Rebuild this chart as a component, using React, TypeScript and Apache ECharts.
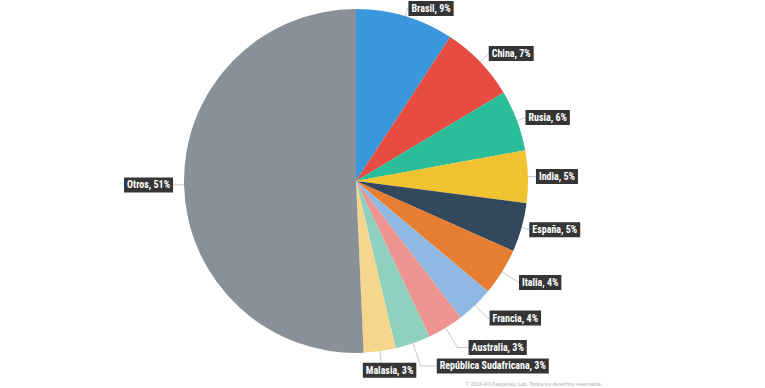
import React, { useEffect, useRef } from "react";
import * as echarts from "echarts";

const categories = [
  "Brasil",
  "China",
  "Rusia",
  "India",
  "España",
  "Italia",
  "Francia",
  "Australia",
  "República Sudafricana",
  "Malasia",
  "Otros",
];
const values = [9.2, 7.2, 5.7, 4.9, 4.6, 4.4, 3.5, 3.4, 3.3, 3.0, 50.6];
const percentLabels = ["9%", "7%", "6%", "5%", "5%", "4%", "4%", "3%", "3%", "3%", "51%"];
const colors = [
  "#3a97dc",
  "#e64c3f",
  "#2bbd99",
  "#f1c330",
  "#34485d",
  "#e67d31",
  "#8fb8e5",
  "#ee9490",
  "#8dd1be",
  "#f6d58d",
  "#899098",
];
// label connector lengths (first segment, second segment)
const lineLen = [8, 12, 9, 8, 8, 20, 18, 23, 24, 15, 8];
const lineLen2 = [1, 0, 0, 0, 0, 0, 2, 11, 16, 0, 3];
const footnote = "© 2016 AO Kaspersky Lab. Todos los derechos reservados.";

export default function App() {
  const ref = useRef<HTMLDivElement>(null);
  useEffect(() => {
    if (!ref.current) return;
    const chart = echarts.init(ref.current, null, { renderer: "svg" });
    chart.setOption({
      animation: false,
      backgroundColor: "#ffffff",
      graphic: [
        {
          type: "text",
          right: 162,
          bottom: 2,
          style: {
            text: footnote,
            fill: "#b0b0b0",
            font: "5.2px 'Liberation Sans'",
          },
        },
      ],
      series: [
        {
          type: "pie",
          center: [356, 181],
          radius: [0, 172],
          startAngle: 90,
          clockwise: true,
          avoidLabelOverlap: false,
          data: categories.map((name, i) => ({
            name,
            value: values[i],
            itemStyle: { color: colors[i] },
            labelLine: { length: lineLen[i], length2: lineLen2[i] },
          })),
          labelLayout: (p: any) =>
            p.dataIndex === 9 ? { dx: -19, dy: 4 } : {},
          label: {
            show: true,
            position: "outside",
            distanceToLabelLine: 0,
            formatter: (p: any) => `${p.name}, ${percentLabels[p.dataIndex]}`,
            color: "#ffffff",
            backgroundColor: "#353535",
            fontFamily:
              "'Liberation Sans Narrow', 'Noto Sans Condensed', 'Roboto Condensed', 'DejaVu Sans Condensed', 'Liberation Sans', sans-serif",
            fontWeight: "bold",
            fontSize: 10,
            padding: [3, 3, 2, 3],
          },
          labelLine: {
            show: true,
            lineStyle: { color: "#c8c8c8", width: 1 },
          },
        },
      ],
    });
    return () => chart.dispose();
  }, []);
  return (
    <div
      ref={ref}
      style={{ position: "fixed", left: 0, top: 0, width: 765, height: 388 }}
    />
  );
}
